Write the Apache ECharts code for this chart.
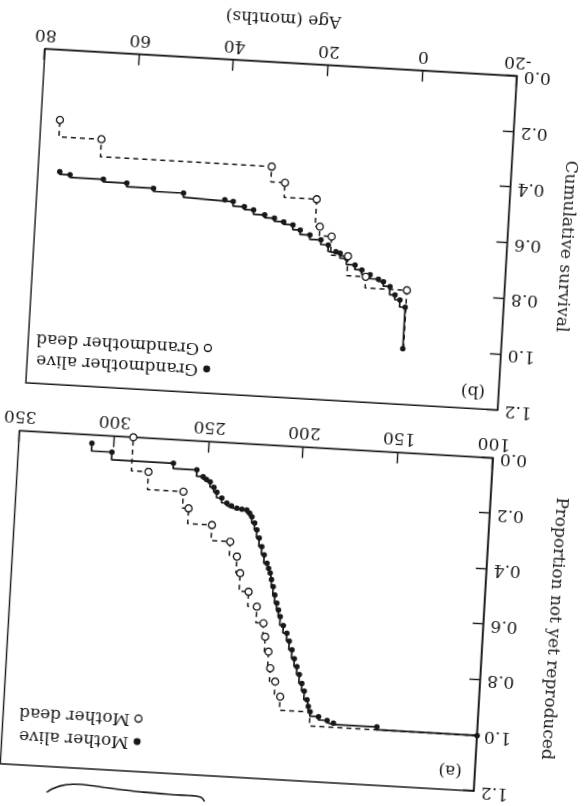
<!DOCTYPE html>
<html><head><meta charset="utf-8">
<script src="https://cdn.jsdelivr.net/npm/echarts@6/dist/echarts.min.js"></script>
<style>
html,body{margin:0;padding:0;background:#fff;overflow:hidden;width:586px;height:806px;}
#wrap{position:absolute;left:0;top:0;width:586px;height:806px;transform:rotate(183.3deg);transform-origin:293px 403px;}
#chart{width:586px;height:806px;}
</style></head><body>
<div id="wrap"><div id="chart"></div></div>
<script>
// Panel (a): age (months) vs proportion not yet reproduced
const motherAliveAge  = [100, 153, 176, 179.4, 184, 188.6, 189.7, 190.6, 192.3, 193.8, 195.4, 196.9, 198.5, 200.0, 201.7, 203.2, 205.3, 207.2, 208.3, 209.4, 210.7, 211.8, 212.9, 213.8, 214.8, 215.8, 217.5, 219.0, 220.6, 222.1, 223.5, 225.1, 226.4, 228.0, 230.6, 233.3, 236.2, 238.7, 241.5, 244.3, 246.0, 248.1, 250.2, 252.0, 255.5, 268.0, 300.7, 311.5];
const motherAliveProp = [1.0, 0.99, 0.985, 0.977, 0.965, 0.949, 0.93, 0.907, 0.876, 0.849, 0.818, 0.79, 0.762, 0.731, 0.70, 0.672, 0.645, 0.614, 0.59, 0.566, 0.537, 0.508, 0.482, 0.459, 0.443, 0.425, 0.395, 0.366, 0.336, 0.307, 0.283, 0.261, 0.249, 0.238, 0.236, 0.233, 0.226, 0.217, 0.2, 0.18, 0.163, 0.144, 0.136, 0.127, 0.104, 0.085, 0.058, 0.03];
const motherDeadAge   = [100, 188.6, 204.8, 207.9, 210.9, 212.3, 214.5, 215.8, 219.8, 224.6, 229.6, 231.8, 235.8, 245.9, 258.7, 261.9, 280.9, 289.9];
const motherDeadProp  = [1.0, 0.95, 0.901, 0.848, 0.801, 0.742, 0.689, 0.641, 0.583, 0.531, 0.466, 0.407, 0.355, 0.299, 0.244, 0.185, 0.121, 0.0];
const motherDeadNoMark = [0, 1];

// Panel (b): age (months) vs cumulative survival
const gmAliveAge  = [0.8, 0.8, 2.0, 3.1, 4.25, 5.7, 6.8, 8.6, 10.4, 11.9, 13.75, 15.2, 16.1, 17.8, 19.4, 21.8, 23.9, 25.5, 27.5, 29.5, 31.6, 34.0, 36.0, 38.4, 40.2, 49.0, 55.4, 61.1, 66.1, 73.2, 75.4];
const gmAliveSurv = [1.0, 0.851, 0.826, 0.809, 0.78, 0.764, 0.756, 0.742, 0.726, 0.71, 0.688, 0.671, 0.666, 0.644, 0.627, 0.612, 0.596, 0.579, 0.57, 0.559, 0.549, 0.534, 0.524, 0.508, 0.503, 0.488, 0.477, 0.464, 0.455, 0.446, 0.437];
const gmDeadAge   = [0.65, 0.65, 9.5, 13.5, 17.2, 19.8, 20.8, 27.7, 30.7, 67.0, 76.0];
const gmDeadSurv  = [1.0, 0.79, 0.75, 0.68, 0.613, 0.58, 0.4825, 0.43, 0.375, 0.312, 0.2516];
const gmDeadNoMark = [0];

const xTicksA = [100, 150, 200, 250, 300, 350];
const xTicksB = [-20, 0, 20, 40, 60, 80];
const yTicks  = [0, 0.2, 0.4, 0.6, 0.8, 1.0, 1.2];

const panelLabels = ['(a)', '(b)'];
const legendA = ['Mother alive', 'Mother dead'];
const legendB = ['Grandmother alive', 'Grandmother dead'];
const yNames = ['Proportion not yet reproduced', 'Cumulative survival'];
const xNameB = 'Age (months)';

const INK = '#181818';
const FONT = '"DejaVu Serif", "Liberation Serif", serif';

function pts(xs, ys, noMark) {
  return xs.map((x, i) => (noMark && noMark.indexOf(i) >= 0)
    ? { value: [x, ys[i]], symbol: 'none' }
    : [x, ys[i]]);
}

const txt = { fontFamily: FONT, fontSize: 17, color: INK };

function xAxisCfg(gi, ticks, name, gap) {
  return {
    gridIndex: gi, type: 'value',
    min: ticks[0], max: ticks[ticks.length - 1], interval: ticks[1] - ticks[0],
    name: name || '', nameLocation: 'middle', nameGap: gap || 0,
    nameTextStyle: txt,
    axisLine: { show: true, onZero: false, lineStyle: { color: INK, width: 1.4 } },
    axisTick: { show: true, inside: true, length: 11, lineStyle: { color: INK, width: 1.4 } },
    axisLabel: Object.assign({ margin: 6, showMinLabel: true, showMaxLabel: true }, txt),
    splitLine: { show: false }
  };
}
function yAxisCfg(gi, name, gap) {
  return {
    gridIndex: gi, type: 'value',
    min: yTicks[0], max: yTicks[yTicks.length - 1], interval: 0.2,
    name: name, nameLocation: 'middle', nameGap: gap, nameRotate: 90,
    nameTextStyle: txt,
    axisLine: { show: true, onZero: false, lineStyle: { color: INK, width: 1.4 } },
    axisTick: { show: true, inside: true, length: 11, lineStyle: { color: INK, width: 1.4 } },
    axisLabel: Object.assign({ margin: 7, formatter: v => v.toFixed(1) }, txt),
    splitLine: { show: false }
  };
}

function legendCfg(names, left, top, gap) {
  return {
    orient: 'vertical', left: left, top: top,
    itemWidth: 7, itemHeight: 7, itemGap: gap, itemTextGap: 6,
    selectedMode: false,
    textStyle: { fontFamily: FONT, fontSize: 17, color: INK, lineHeight: 20 },
    data: [
      { name: names[0], icon: 'circle', itemStyle: { color: INK, borderWidth: 0 } },
      { name: names[1], icon: 'circle', itemStyle: { color: '#fff', borderColor: INK, borderWidth: 1.3 } }
    ]
  };
}

function solid(name, gi, data) {
  return {
    type: 'line', name: name, xAxisIndex: gi, yAxisIndex: gi, step: 'end',
    data: data, symbol: 'circle', symbolSize: 5.5, z: 3,
    lineStyle: { color: INK, width: 1.7 }, itemStyle: { color: INK }
  };
}
function dashed(name, gi, data) {
  return {
    type: 'line', name: name, xAxisIndex: gi, yAxisIndex: gi, step: 'end',
    data: data, symbol: 'circle', symbolSize: 7, z: 4,
    lineStyle: { color: INK, width: 1.5, type: [5, 4] },
    itemStyle: { color: '#fff', borderColor: INK, borderWidth: 1.3 }
  };
}

const chart = echarts.init(document.getElementById('chart'), null, { renderer: 'canvas' });
chart.setOption({
  animation: false,
  backgroundColor: '#fff',
  grid: [
    { left: 90, top: 26, width: 474.5, height: 333.6, show: true, borderColor: INK, borderWidth: 1.4, containLabel: false, outerBoundsMode: 'none' },
    { left: 88.2, top: 407.7, width: 472.7, height: 334.6, show: true, borderColor: INK, borderWidth: 1.4, containLabel: false, outerBoundsMode: 'none' }
  ],
  xAxis: [ xAxisCfg(0, xTicksA), xAxisCfg(1, xTicksB, xNameB, 36) ],
  yAxis: [ yAxisCfg(0, yNames[0], 62), yAxisCfg(1, yNames[1], 50) ],
  legend: [ legendCfg(legendA, 420, 41, 3), legendCfg(legendB, 372, 417, 1) ],
  graphic: [
    { type: 'text', x: 115, y: 46, style: { text: panelLabels[0], font: '17px ' + FONT, fill: INK, align: 'center', verticalAlign: 'middle', textAlign: 'center', textVerticalAlign: 'middle' } },
    { type: 'text', x: 114, y: 426, style: { text: panelLabels[1], font: '17px ' + FONT, fill: INK, align: 'center', verticalAlign: 'middle', textAlign: 'center', textVerticalAlign: 'middle' } },
    { type: 'polyline', shape: { points: [[524,-14],[519,-3],[511,4],[497,9],[480,10],[455,8],[423,6],[390,5],[362,4],[356,-6]], smooth: 0.3 }, style: { stroke: INK, lineWidth: 1.6, fill: null } }
  ],
  series: [
    solid(legendA[0], 0, pts(motherAliveAge, motherAliveProp)),
    dashed(legendA[1], 0, pts(motherDeadAge, motherDeadProp, motherDeadNoMark)),
    solid(legendB[0], 1, pts(gmAliveAge, gmAliveSurv)),
    dashed(legendB[1], 1, pts(gmDeadAge, gmDeadSurv, gmDeadNoMark))
  ]
});
</script>
</body></html>
